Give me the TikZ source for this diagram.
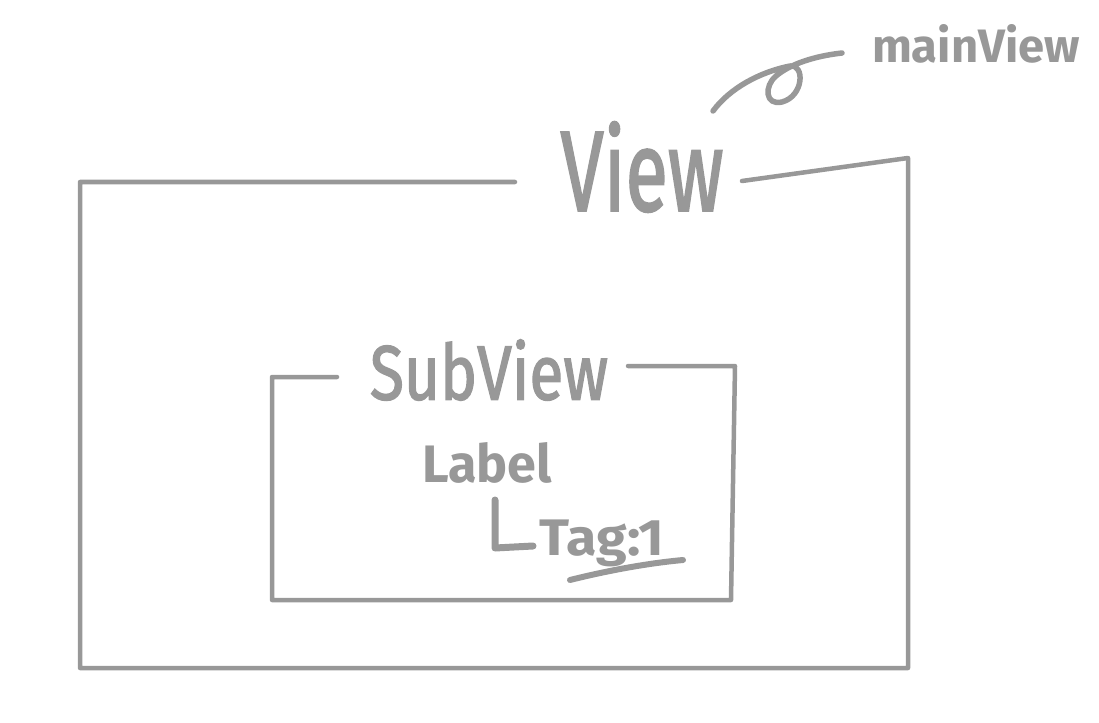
\documentclass[tikz,border=0pt]{standalone}
\usepackage{fontspec}
\setmainfont{Fira Sans}
\newfontfamily\medhand[FakeBold=2]{Fira Sans}
\usepackage{graphicx}
\definecolor{pen}{RGB}{152,152,152}
\begin{document}
\begin{tikzpicture}[x=1pt,y=-1pt,
  penline/.style={draw=pen, line width=4.5pt, line cap=round, line join=round},
  thickpen/.style={penline, line width=7pt},
  hand/.style={text=pen, inner sep=0pt, anchor=center, font=\medhand},
  boldhand/.style={hand, font=\bfseries}]
\useasboundingbox (0,0) rectangle (1099,722);
% texts
\node[hand] (view) at (642,167) {\resizebox{163pt}{89pt}{View}};
\node[boldhand] (mainview) at (976,44) {\resizebox{208pt}{38pt}{mainView}};
\node[hand] (subview) at (489,370) {\resizebox{238pt}{60pt}{SubView}};
\node[boldhand] (label) at (487,463) {\resizebox{130pt}{40pt}{Label}};
\node[boldhand] (tag) at (602,543) {\resizebox*{125pt}{47pt}{Tag:1}};
% outer box
\coordinate (o1) at (80,182);
\coordinate (o2) at (515,182);
\coordinate (o3) at (742,181);
\coordinate (o4) at (908,158);
\coordinate (o5) at (908,668);
\coordinate (o6) at (80,668);
\draw[penline] (o2) -- (o1) -- (o6) -- (o5) -- (o4) -- (o3);
% sub box
\coordinate (s1) at (272,377);
\coordinate (s2) at (337,377);
\coordinate (s3) at (628,366);
\coordinate (s4) at (735,366);
\coordinate (s5) at (731,600);
\coordinate (s6) at (272,600);
\draw[penline] (s2) -- (s1) -- (s6) -- (s5) -- (s4) -- (s3);
% curve to mainView
\coordinate (c0) at (713,111);
\coordinate (c1) at (842,53);
\draw[penline, line width=5.5pt] (c0) .. controls (730,88) and (760,72) .. (790,66)
  .. controls (805,64) and (804,96) .. (782,102)
  .. controls (765,106) and (764,86) .. (776,76)
  .. controls (790,64) and (815,56) .. (c1);
% L mark
\coordinate (l1) at (495,500);
\coordinate (l2) at (495,548);
\coordinate (l3) at (533,546);
\draw[thickpen] (l1) -- (l2) -- (l3);
% underline
\coordinate (u1) at (570,580);
\coordinate (u2) at (683,560);
\draw[thickpen, line width=6pt] (u1) .. controls (610,570) and (650,563) .. (u2);
\end{tikzpicture}
\end{document}
